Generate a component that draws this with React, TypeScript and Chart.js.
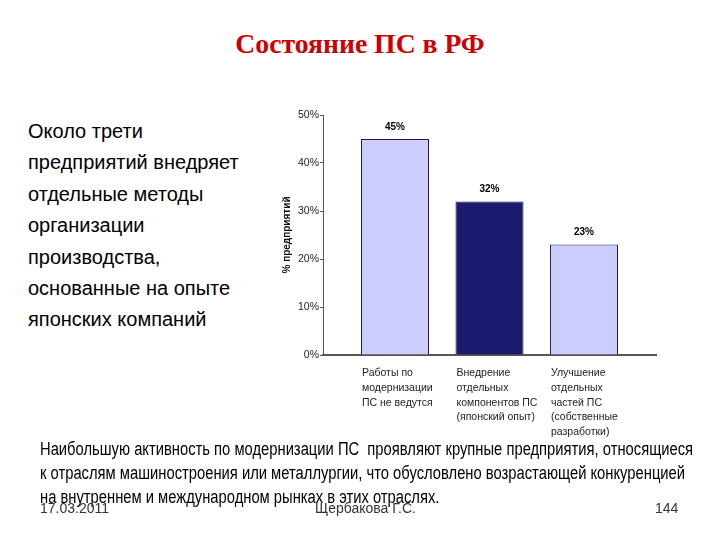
import { useEffect, useRef } from 'react';
import { Chart, registerables } from 'chart.js';

Chart.register(...registerables);

// chart data
const categories = [
    ['Работы по', 'модернизации', 'ПС не ведутся'],
    ['Внедрение', 'отдельных', 'компонентов ПС', '(японский опыт)'],
    ['Улучшение', 'отдельных', 'частей ПС', '(собственные', 'разработки)'],
];
const shares = [45, 32, 23];
const yTicks = [0, 10, 20, 30, 40, 50];

const sideText = [
    'Около трети',
    'предприятий внедряет',
    'отдельные методы',
    'организации',
    'производства,',
    'основанные на опыте',
    'японских компаний',
];
const bottomText = [
    'Наибольшую активность по модернизации ПС  проявляют крупные предприятия, относящиеся',
    'к отраслям машиностроения или металлургии, что обусловлено возрастающей конкуренцией',
    'на внутреннем и международном рынках в этих отраслях.',
];

const ARIAL = '"Liberation Sans", Arial, sans-serif';

const valueLabels = {
    id: 'valueLabels',
    afterDatasetsDraw(chart: any) {
        const { ctx } = chart;
        const meta = chart.getDatasetMeta(0);
        ctx.save();
        ctx.font = `bold 10px ${ARIAL}`;
        ctx.fillStyle = '#000';
        ctx.textAlign = 'center';
        ctx.textBaseline = 'middle';
        meta.data.forEach((bar: any, i: number) => {
            ctx.fillText(`${shares[i]}%`, bar.x, bar.y - 12);
        });
        ctx.restore();
    },
};

function BarChart() {
    const canvasRef = useRef<HTMLCanvasElement>(null);

    useEffect(() => {
        if (!canvasRef.current) return;
        const chart = new Chart(canvasRef.current, {
            type: 'bar',
            data: {
                datasets: [{
                    data: shares.map((v, i) => ({ x: i, y: v })),
                    backgroundColor: ['#ccccff', '#1a1a6e', '#ccccff'],
                    borderColor: '#1a1a50',
                    borderWidth: 1,
                    borderSkipped: 'bottom',
                    barPercentage: 0.9,
                    categoryPercentage: 0.8,
                }],
            },
            options: {
                animation: false,
                responsive: true,
                maintainAspectRatio: false,
                layout: { padding: { top: 15, right: 14, left: 0, bottom: 0 } },
                plugins: {
                    legend: { display: false },
                    tooltip: { enabled: false },
                },
                scales: {
                    x: {
                        type: 'linear',
                        offset: false,
                        min: -0.762,
                        max: 2.762,
                        afterBuildTicks: (s: any) => { s.ticks = categories.map((_, i) => ({ value: i })); },
                        afterFit: (s: any) => { s.height = 85; },
                        grid: { display: false, offset: false },
                        border: { display: true, color: '#555', width: 2 },
                        ticks: {
                            autoSkip: false,
                            maxRotation: 0,
                            align: 'start',
                            labelOffset: -33,
                            padding: 3,
                            color: '#222',
                            font: { family: ARIAL, size: 10.5, lineHeight: 1.4 },
                            callback: (v: any) => categories[v],
                        },
                    },
                    y: {
                        min: 0,
                        max: 50,
                        afterBuildTicks: (s: any) => { s.ticks = yTicks.map(v => ({ value: v })); },
                        afterFit: (s: any) => { s.width = 53; },
                        grid: { drawOnChartArea: false, drawTicks: true, tickLength: 3, color: '#555' },
                        border: { display: true, color: '#555', width: 1 },
                        ticks: {
                            padding: 1,
                            color: '#222',
                            font: { family: ARIAL, size: 10.5 },
                            callback: (v: any) => `${v}%`,
                        },
                        title: {
                            display: true,
                            text: '% предприятий',
                            color: '#111',
                            padding: { top: 11, bottom: 0 },
                            font: { family: ARIAL, size: 10, weight: 'bold' },
                        },
                    },
                },
            },
            plugins: [valueLabels],
        } as any);
        return () => chart.destroy();
    }, []);

    return <canvas ref={canvasRef} />;
}

export default function App() {
    return (
        <div style={{ position: 'absolute', left: 0, top: 0, width: 720, height: 540, background: '#fff', overflow: 'hidden', fontFamily: ARIAL }}>
            <div style={{ position: 'absolute', left: 0, top: 27, width: 720, textAlign: 'center', fontFamily: '"Liberation Serif", "Times New Roman", serif', fontWeight: 'bold', fontSize: 27.7, color: '#cc0000', lineHeight: '34px' }}>
                Состояние ПС в РФ
            </div>
            <div style={{ position: 'absolute', left: 28, top: 116, fontSize: 20, lineHeight: '31.4px', color: '#000' }}>
                {sideText.map((t, i) => <div key={i} style={{ whiteSpace: 'nowrap' }}>{t}</div>)}
            </div>
            <div style={{ position: 'absolute', left: 270, top: 100, width: 400, height: 340 }}>
                <BarChart />
            </div>
            <div style={{ position: 'absolute', left: 40, top: 437, fontSize: 18, lineHeight: '24px', color: '#000', transform: 'scaleX(0.82)', transformOrigin: 'left top' }}>
                {bottomText.map((t, i) => <div key={i} style={{ whiteSpace: 'pre' }}>{t}</div>)}
            </div>
            <div style={{ position: 'absolute', left: 40, top: 500, fontSize: 14, color: '#333', whiteSpace: 'nowrap' }}>17.03.2011</div>
            <div style={{ position: 'absolute', left: 315, top: 500, fontSize: 14, color: '#333', whiteSpace: 'nowrap' }}>Щербакова Г.С.</div>
            <div style={{ position: 'absolute', left: 655, top: 500, fontSize: 14, color: '#333', whiteSpace: 'nowrap' }}>144</div>
        </div>
    );
}
